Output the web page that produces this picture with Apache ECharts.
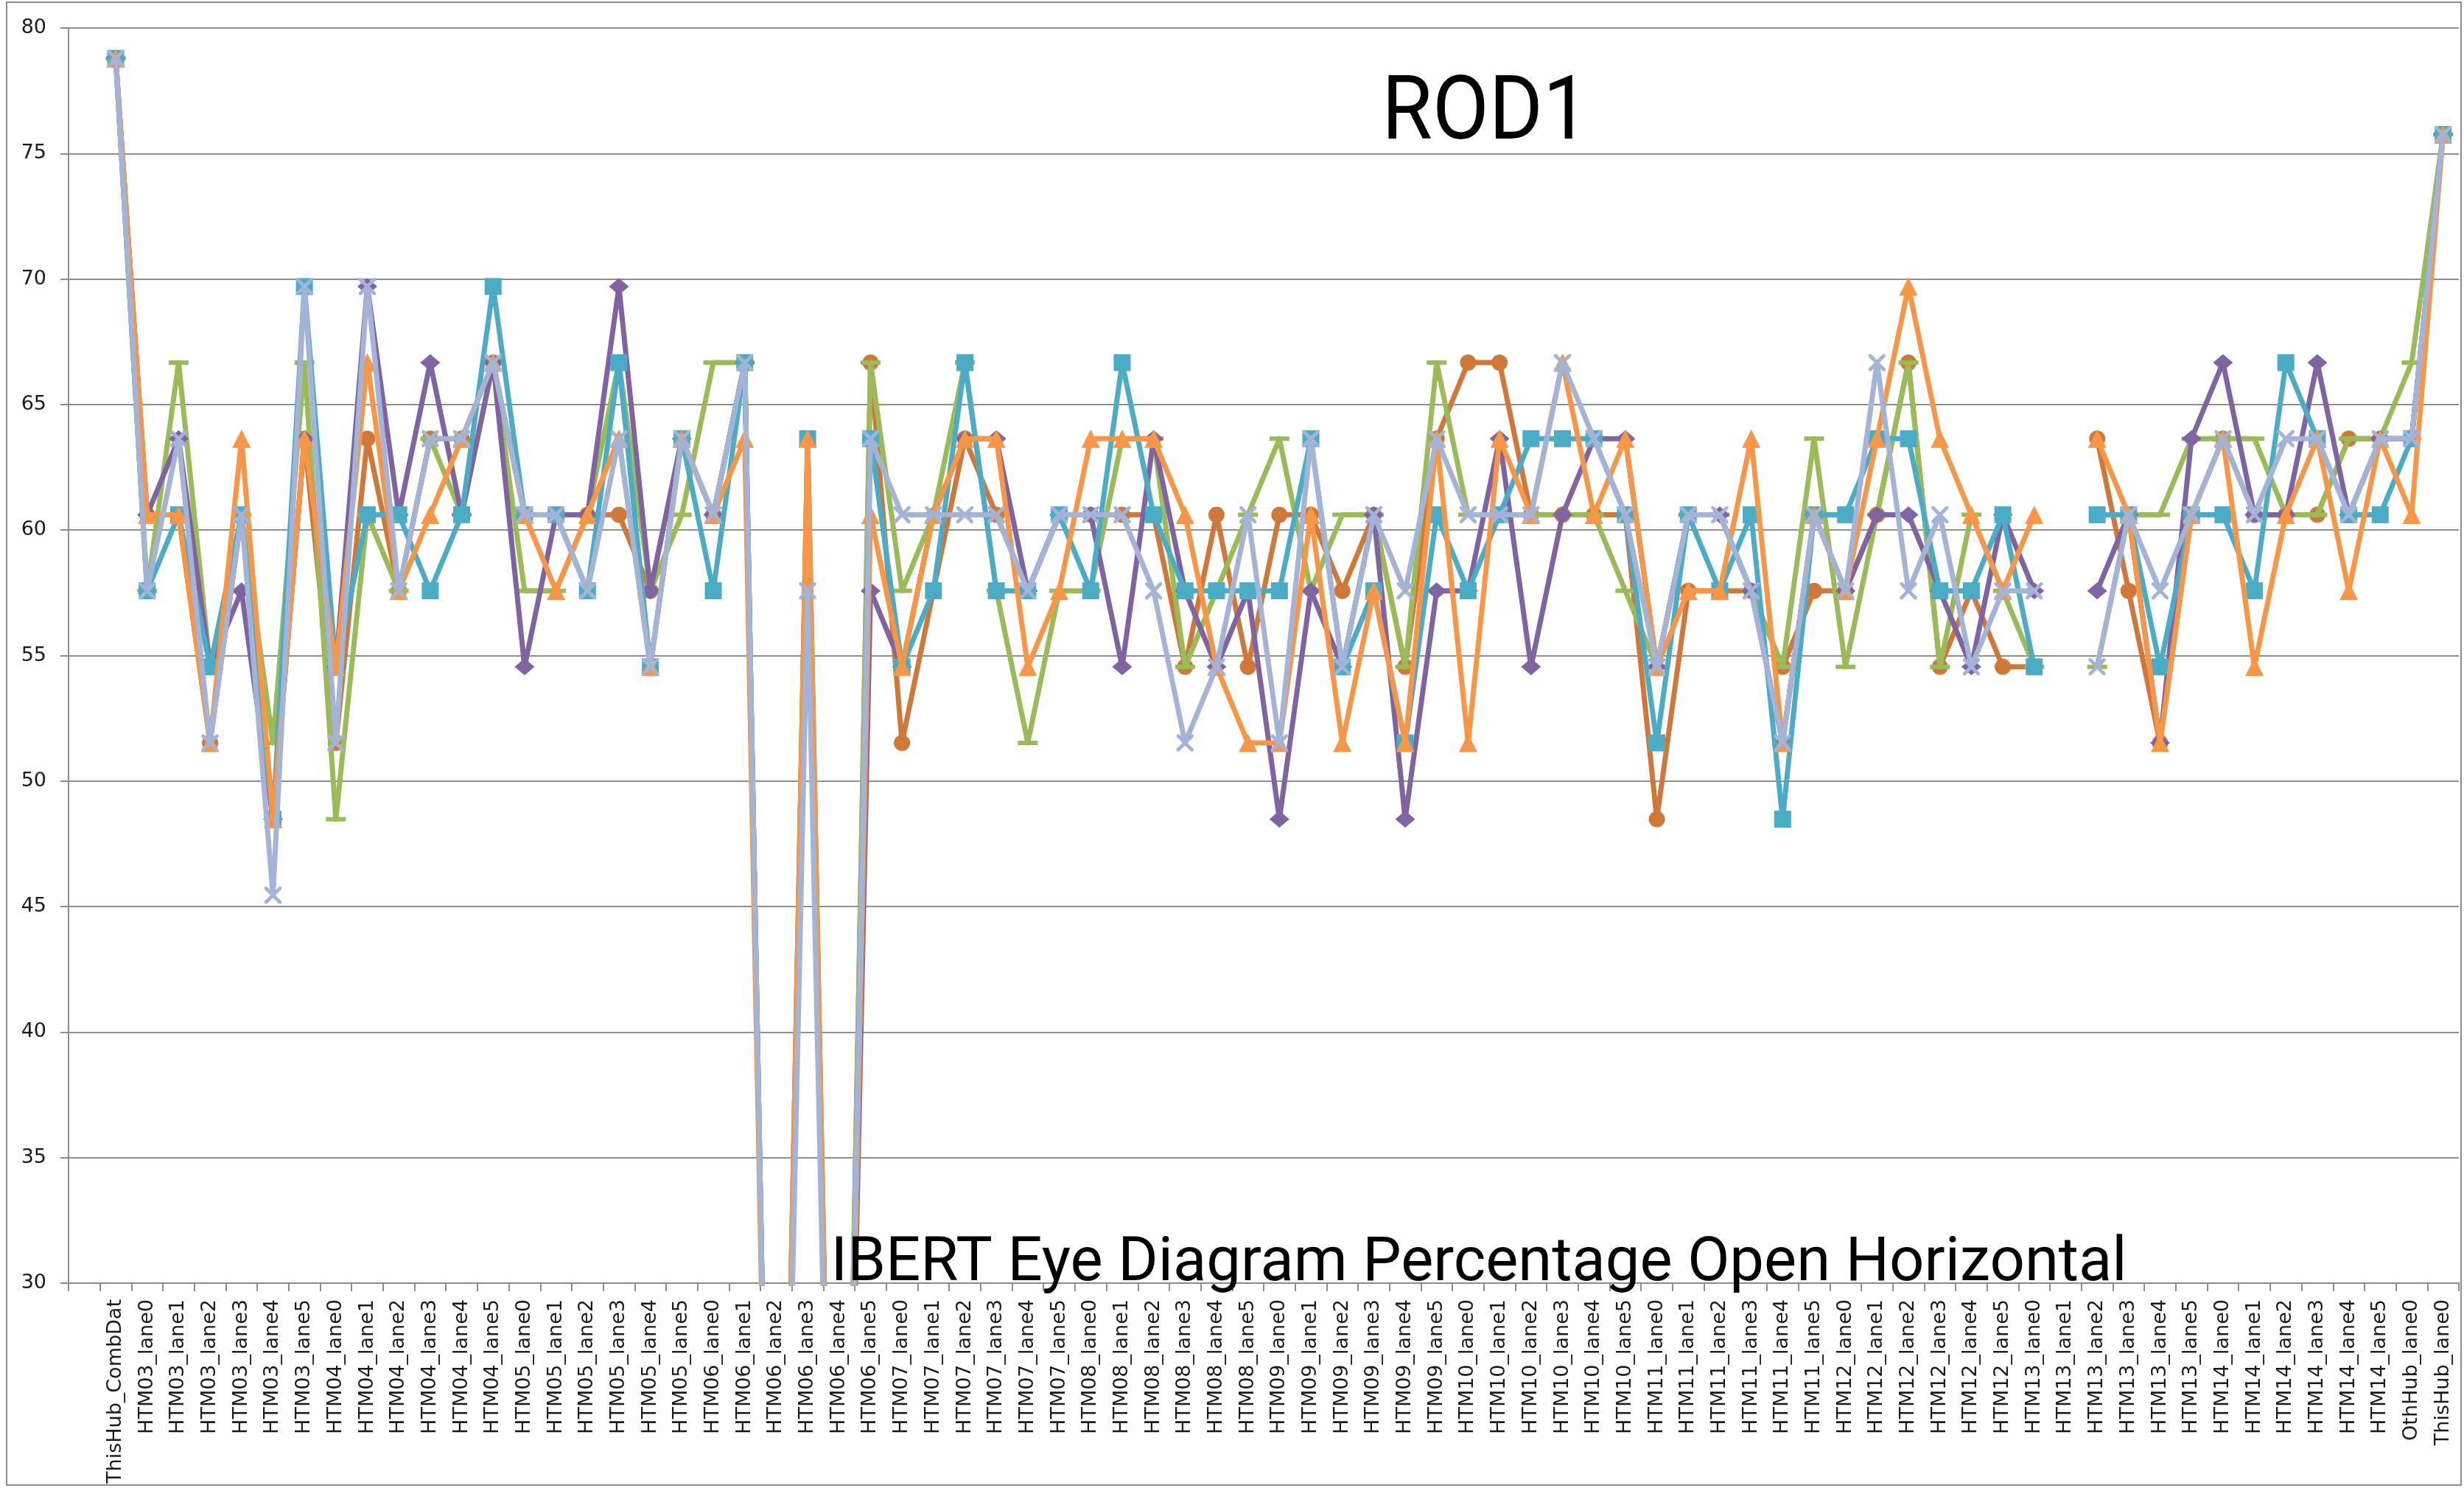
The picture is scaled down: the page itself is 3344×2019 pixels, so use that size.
<!DOCTYPE html>
<html>
<head>
<meta charset="utf-8">
<title>ROD1 - IBERT Eye Diagram Percentage Open Horizontal</title>
<script src="https://cdn.jsdelivr.net/npm/echarts@6/dist/echarts.min.js"></script>
<style>
  html, body { margin: 0; padding: 0; background: #fff; }
  #chart { width: 3344px; height: 2019px; }
</style>
</head>
<body>
<div id="chart"></div>
<script>
// category labels (first slot of the axis is blank in the original sheet)
const hubs = ['HTM03', 'HTM04', 'HTM05', 'HTM06', 'HTM07', 'HTM08', 'HTM09', 'HTM10', 'HTM11', 'HTM12', 'HTM13', 'HTM14'];
const lanes = ['lane0', 'lane1', 'lane2', 'lane3', 'lane4', 'lane5'];
const categories = [''].concat(
  ['ThisHub_CombDat'],
  hubs.flatMap(h => lanes.map(l => h + '_' + l)),
  ['OthHub_lane0', 'ThisHub_lane0']
);

// percentage open, one array per series (null = no measurement)
const brownCircle = [null,
  78.79, 60.61, 60.61, 51.52, 60.61, 48.48, 63.64, 51.52, 63.64, 57.58,
  63.64, 63.64, 66.67, 60.61, 60.61, 60.61, 60.61, 57.58, 63.64, 60.61,
  66.67, 0, 63.64, 0, 66.67, 51.52, 57.58, 63.64, 60.61, 57.58,
  60.61, 60.61, 60.61, 60.61, 54.55, 60.61, 54.55, 60.61, 60.61, 57.58,
  60.61, 54.55, 63.64, 66.67, 66.67, 60.61, 60.61, 60.61, 60.61, 48.48,
  57.58, 57.58, 57.58, 54.55, 57.58, 57.58, 60.61, 66.67, 54.55, 57.58,
  54.55, 54.55, null, 63.64, 57.58, 51.52, 60.61, 63.64, 60.61, 60.61,
  60.61, 63.64, 63.64, 63.64, 75.76];

const greenDash = [null,
  78.79, 57.58, 66.67, 54.55, 60.61, 51.52, 66.67, 48.48, 60.61, 57.58,
  63.64, 60.61, 66.67, 57.58, 57.58, 60.61, 66.67, 57.58, 60.61, 66.67,
  66.67, 0, 0, 0, 66.67, 57.58, 60.61, 66.67, 57.58, 51.52,
  57.58, 57.58, 63.64, 63.64, 54.55, 57.58, 60.61, 63.64, 57.58, 60.61,
  60.61, 54.55, 66.67, 60.61, 60.61, 60.61, 60.61, 60.61, 57.58, 54.55,
  60.61, 60.61, 57.58, 54.55, 63.64, 54.55, 60.61, 66.67, 54.55, 60.61,
  57.58, 54.55, null, 54.55, 60.61, 60.61, 63.64, 63.64, 63.64, 60.61,
  60.61, 63.64, 63.64, 66.67, 75.76];

const purpleDiamond = [null,
  78.79, 60.61, 63.64, 54.55, 57.58, 48.48, 63.64, 54.55, 69.70, 60.61,
  66.67, 60.61, 66.67, 54.55, 60.61, 60.61, 69.70, 57.58, 63.64, 60.61,
  66.67, 0, 0, 0, 57.58, 54.55, 60.61, 63.64, 63.64, 57.58,
  60.61, 60.61, 54.55, 63.64, 57.58, 54.55, 57.58, 48.48, 57.58, 54.55,
  60.61, 48.48, 57.58, 57.58, 63.64, 54.55, 60.61, 63.64, 63.64, 54.55,
  60.61, 60.61, 57.58, 51.52, 60.61, 57.58, 60.61, 60.61, 57.58, 54.55,
  60.61, 57.58, null, 57.58, 60.61, 51.52, 63.64, 66.67, 60.61, 60.61,
  66.67, 60.61, 63.64, 63.64, 75.76];

const tealSquare = [null,
  78.79, 57.58, 60.61, 54.55, 60.61, 48.48, 69.70, 54.55, 60.61, 60.61,
  57.58, 60.61, 69.70, 60.61, 60.61, 57.58, 66.67, 54.55, 63.64, 57.58,
  66.67, 0, 63.64, 0, 63.64, 54.55, 57.58, 66.67, 57.58, 57.58,
  60.61, 57.58, 66.67, 60.61, 57.58, 57.58, 57.58, 57.58, 63.64, 54.55,
  57.58, 51.52, 60.61, 57.58, 60.61, 63.64, 63.64, 63.64, 60.61, 51.52,
  60.61, 57.58, 60.61, 48.48, 60.61, 60.61, 63.64, 63.64, 57.58, 57.58,
  60.61, 54.55, null, 60.61, 60.61, 54.55, 60.61, 60.61, 57.58, 66.67,
  63.64, 60.61, 60.61, 63.64, 75.76];

const orangeTriangle = [null,
  78.79, 60.61, 60.61, 51.52, 63.64, 48.48, 63.64, 54.55, 66.67, 57.58,
  60.61, 63.64, 66.67, 60.61, 57.58, 60.61, 63.64, 54.55, 63.64, 60.61,
  63.64, 0, 63.64, 0, 60.61, 54.55, 60.61, 63.64, 63.64, 54.55,
  57.58, 63.64, 63.64, 63.64, 60.61, 54.55, 51.52, 51.52, 60.61, 51.52,
  57.58, 51.52, 63.64, 51.52, 63.64, 60.61, 66.67, 60.61, 63.64, 54.55,
  57.58, 57.58, 63.64, 51.52, 60.61, 57.58, 63.64, 69.70, 63.64, 60.61,
  57.58, 60.61, null, 63.64, 60.61, 51.52, 60.61, 63.64, 54.55, 60.61,
  63.64, 57.58, 63.64, 60.61, 75.76];

const grayCross = [null,
  78.79, 57.58, 63.64, 51.52, 60.61, 45.45, 69.70, 51.52, 69.70, 57.58,
  63.64, 63.64, 66.67, 60.61, 60.61, 57.58, 63.64, 54.55, 63.64, 60.61,
  66.67, 0, 57.58, 0, 63.64, 60.61, 60.61, 60.61, 60.61, 57.58,
  60.61, 60.61, 60.61, 57.58, 51.52, 54.55, 60.61, 51.52, 63.64, 54.55,
  60.61, 57.58, 63.64, 60.61, 60.61, 60.61, 66.67, 63.64, 60.61, 54.55,
  60.61, 60.61, 57.58, 51.52, 60.61, 57.58, 66.67, 57.58, 60.61, 54.55,
  57.58, 57.58, null, 54.55, 60.61, 57.58, 60.61, 63.64, 60.61, 63.64,
  63.64, 60.61, 63.64, 63.64, 75.76];

const crossPath = 'path://M0,0 L3,0 L10,7 L17,0 L20,0 L20,3 L13,10 L20,17 L20,20 L17,20 L10,13 L3,20 L0,20 L0,17 L7,10 L0,3 Z';

function makeSeries(name, data, color, symbol, size, z) {
  return {
    name: name,
    type: 'line',
    data: data,
    z: z,
    symbol: symbol,
    symbolSize: size,
    showAllSymbol: true,
    connectNulls: false,
    clip: true,
    animation: false,
    itemStyle: { color: color },
    lineStyle: { color: color, width: 7, join: 'round', cap: 'round' },
    emphasis: { disabled: true },
  };
}

const chart = echarts.init(document.getElementById('chart'));

const option = {
  backgroundColor: '#ffffff',
  animation: false,
  grid: {
    left: 93,
    right: 7,
    top: 38,
    bottom: 278,
  },
  xAxis: {
    type: 'category',
    data: categories,
    boundaryGap: true,
    axisLine: { show: true, lineStyle: { color: '#8c8c8c', width: 2 } },
    axisTick: { show: true, length: 11, interval: 0, lineStyle: { color: '#8c8c8c', width: 2 } },
    axisLabel: {
      interval: 0,
      rotate: 90,
      margin: 22,
      fontSize: 27,
      fontFamily: 'DejaVu Sans',
      color: '#1a1a1a',
    },
    splitLine: { show: false },
  },
  yAxis: {
    type: 'value',
    min: 30,
    max: 80,
    interval: 5,
    axisLine: { show: true, lineStyle: { color: '#8c8c8c', width: 2 } },
    axisTick: { show: true, length: 11, lineStyle: { color: '#8c8c8c', width: 2 } },
    axisLabel: {
      margin: 30,
      fontSize: 27,
      fontFamily: 'DejaVu Sans',
      color: '#1a1a1a',
    },
    splitLine: { show: true, lineStyle: { color: '#8f8f8f', width: 2 } },
  },
  series: [
    makeSeries('Series 1', brownCircle, '#d0783a', 'circle', 22, 2),
    makeSeries('Series 2', greenDash, '#9bbb59', 'rect', [27, 6], 3),
    makeSeries('Series 3', purpleDiamond, '#8064a2', 'diamond', [27, 23], 4),
    makeSeries('Series 4', tealSquare, '#4bacc6', 'rect', 23, 5),
    makeSeries('Series 5', orangeTriangle, '#f79646', 'triangle', 25, 6),
    makeSeries('Series 6', grayCross, '#a3b4d7', crossPath, 23, 7),
  ],
  graphic: [
    {
      type: 'rect',
      z: 0,
      silent: true,
      shape: { x: 9, y: 3, width: 3331, height: 2012 },
      style: { fill: 'none', stroke: '#8c8c8c', lineWidth: 2 },
    },
    {
      type: 'text',
      z: 100,
      silent: true,
      x: 2016,
      y: 158,
      scaleX: 0.93,
      style: {
        text: 'ROD1',
        font: '120px Roboto',
        fill: '#000000',
        textAlign: 'center',
        textVerticalAlign: 'middle',
      },
    },
    {
      type: 'text',
      z: 100,
      silent: true,
      x: 2007,
      y: 1716,
      scaleX: 0.99,
      style: {
        text: 'IBERT Eye Diagram Percentage Open Horizontal',
        font: '84px Roboto',
        fill: '#000000',
        textAlign: 'center',
        textVerticalAlign: 'middle',
      },
    },
  ],
};

chart.setOption(option);
</script>
</body>
</html>
